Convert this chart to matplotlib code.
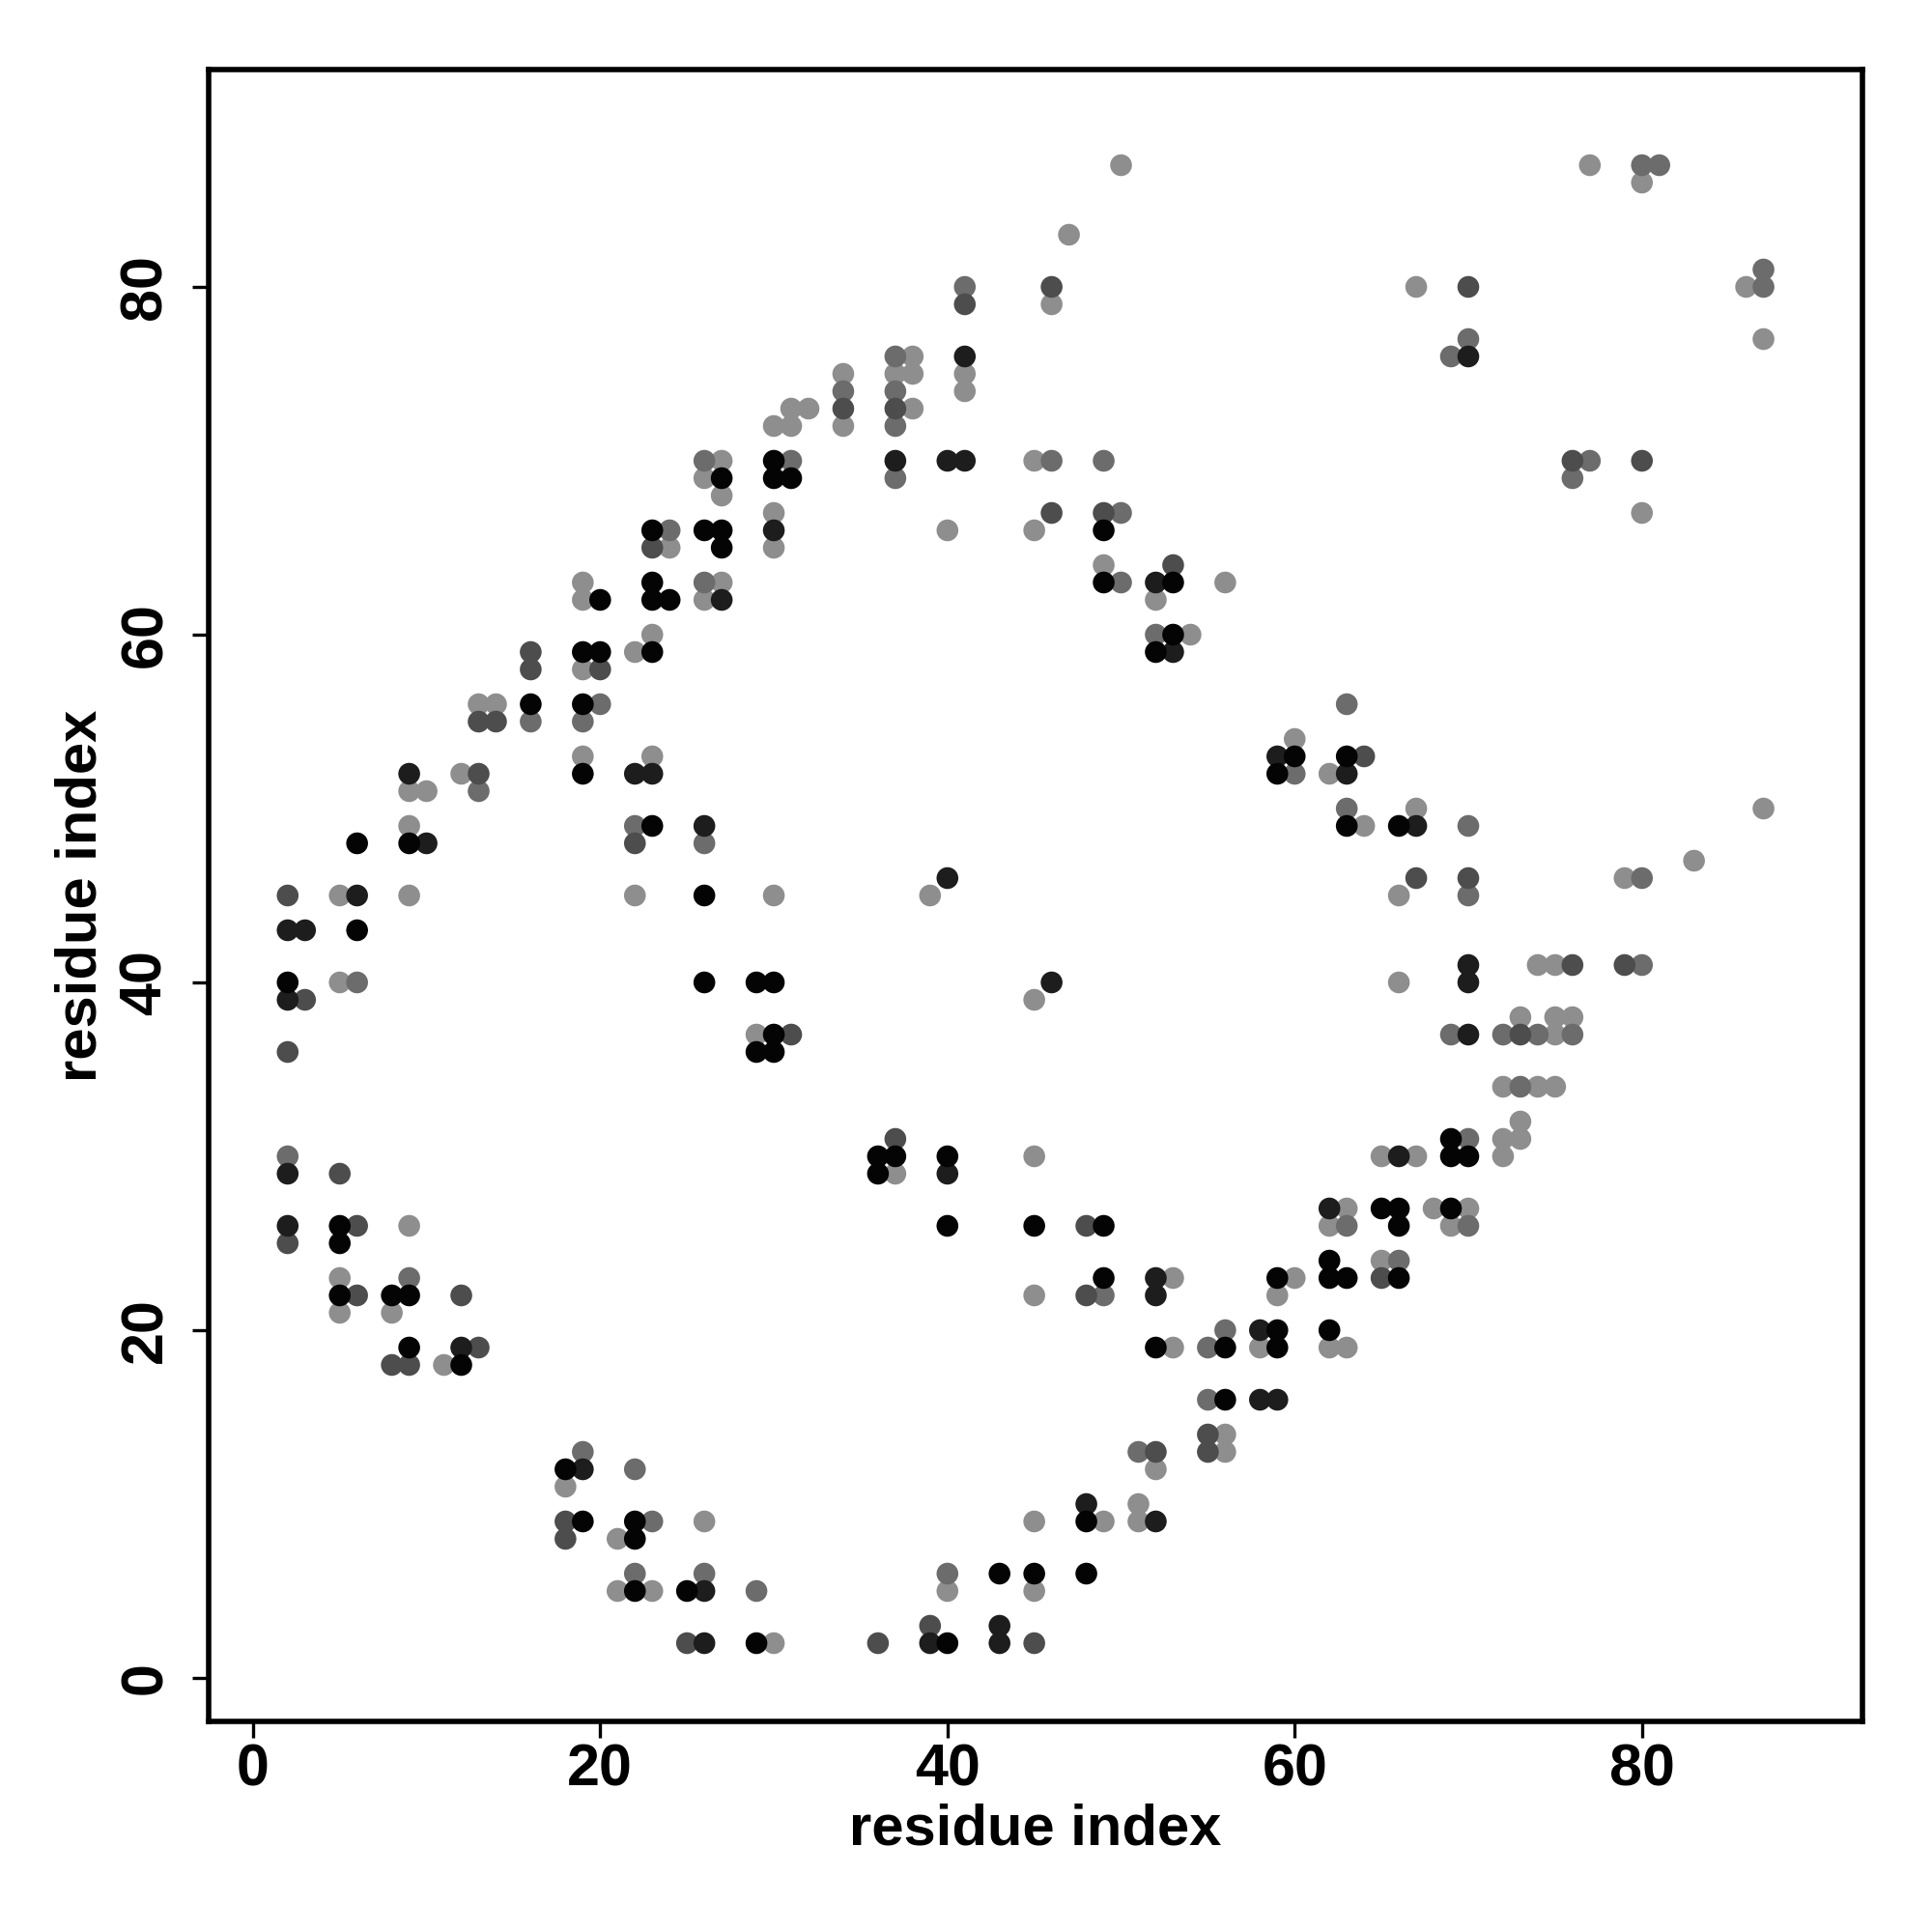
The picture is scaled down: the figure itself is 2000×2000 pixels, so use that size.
#!/usr/bin/env python3
"""Contact map: residue index vs residue index, shaded by contact score."""
import numpy as np
import matplotlib
matplotlib.use("Agg")
import matplotlib.pyplot as plt
from matplotlib.colors import Normalize

# contacts grouped by score level (i, j)
pts_black = [(2, 40), (6, 43), (6, 48), (5, 26), (5, 25), (5, 22), (9, 48), (8, 22), (9, 22), (9, 19),
             (12, 18), (16, 56), (19, 59), (20, 59), (19, 56), (19, 52), (20, 62), (23, 59), (23, 49),
             (23, 66), (23, 63), (23, 62), (24, 62), (27, 69), (26, 66), (27, 66), (27, 65), (26, 45),
             (26, 40), (29, 40), (30, 40), (30, 37), (29, 36), (30, 36), (30, 70), (30, 69), (31, 69),
             (49, 66), (49, 63), (53, 63), (53, 60), (52, 59), (60, 53), (59, 52), (63, 53), (63, 49),
             (66, 49), (69, 31), (69, 30), (70, 30), (65, 27), (66, 27), (66, 26), (69, 27), (62, 24),
             (62, 23), (63, 23), (66, 23), (59, 23), (59, 20), (62, 20), (59, 19), (52, 19), (56, 19),
             (56, 16), (48, 9), (43, 6), (45, 6), (48, 6), (40, 2), (29, 2), (36, 30), (37, 30), (36, 29),
             (40, 30), (40, 26), (45, 26), (49, 26), (49, 23), (18, 12), (19, 9), (22, 9), (22, 8),
             (22, 5), (25, 5)]
pts_dark = [(2, 43), (3, 43), (2, 39), (2, 29), (2, 26), (6, 45), (10, 48), (9, 52), (12, 19), (22, 52),
            (23, 52), (27, 62), (26, 49), (30, 66), (37, 70), (41, 76), (40, 70), (41, 70), (52, 63),
            (53, 59), (40, 46), (46, 40), (59, 53), (63, 52), (67, 49), (70, 41), (70, 40), (70, 37),
            (66, 30), (62, 27), (58, 20), (58, 16), (59, 16), (52, 23), (52, 22), (48, 10), (52, 9),
            (39, 2), (43, 3), (43, 2), (40, 29), (19, 12), (26, 5), (26, 2), (70, 76)]
pts_dmid = [(2, 45), (3, 39), (2, 36), (2, 25), (5, 29), (6, 26), (6, 22), (8, 18), (9, 18), (13, 19),
            (12, 22), (13, 52), (13, 55), (14, 55), (16, 59), (16, 58), (20, 58), (22, 48), (23, 65),
            (31, 37), (34, 73), (37, 73), (41, 79), (46, 80), (46, 67), (49, 67), (53, 64), (64, 53),
            (67, 46), (70, 46), (76, 41), (79, 41), (73, 37), (65, 23), (55, 14), (55, 13), (52, 13),
            (39, 3), (45, 2), (36, 2), (37, 31), (48, 26), (48, 22), (18, 9), (18, 8), (25, 2),
            (70, 80), (76, 70), (80, 70)]
pts_mid = [(2, 30), (6, 40), (9, 23), (13, 51), (16, 55), (20, 56), (19, 55), (22, 49), (24, 66),
           (26, 70), (26, 63), (26, 48), (31, 70), (34, 74), (37, 76), (37, 74), (37, 72), (37, 69),
           (41, 80), (46, 70), (49, 70), (50, 67), (50, 63), (52, 60), (60, 52), (63, 56), (63, 50),
           (70, 49), (70, 45), (80, 46), (80, 41), (69, 37), (72, 37), (74, 37), (76, 37), (73, 34),
           (70, 31), (63, 26), (70, 26), (66, 24), (55, 19), (56, 20), (55, 16), (51, 13), (40, 6),
           (49, 22), (19, 13), (22, 12), (23, 9), (22, 6), (26, 6), (29, 5), (70, 77), (69, 76),
           (80, 87), (81, 87), (87, 81), (87, 80), (77, 70), (76, 69)]
pts_light = [(5, 45), (5, 40), (5, 23), (5, 21), (9, 45), (9, 49), (9, 51), (10, 51), (8, 21), (9, 26),
             (11, 18), (12, 52), (13, 56), (14, 56), (19, 58), (19, 53), (19, 63), (19, 62), (22, 59),
             (23, 60), (23, 53), (22, 45), (24, 65), (27, 70), (26, 69), (27, 68), (27, 63), (26, 62),
             (29, 37), (30, 45), (30, 72), (31, 72), (31, 73), (32, 73), (30, 67), (30, 65), (34, 75),
             (34, 72), (38, 76), (37, 75), (38, 75), (38, 73), (41, 75), (41, 74), (40, 66), (45, 70),
             (46, 79), (45, 66), (47, 83), (50, 87), (49, 64), (52, 62), (56, 63), (54, 60), (39, 45),
             (45, 39), (60, 54), (62, 52), (64, 49), (67, 50), (66, 45), (79, 46), (83, 47), (87, 50),
             (66, 40), (74, 41), (75, 41), (75, 37), (73, 38), (75, 38), (76, 38), (72, 34), (74, 34),
             (75, 34), (73, 32), (72, 31), (73, 31), (72, 30), (65, 30), (67, 30), (63, 27), (62, 26),
             (68, 27), (70, 27), (69, 26), (65, 24), (60, 23), (59, 22), (58, 19), (62, 19), (63, 19),
             (53, 23), (53, 19), (56, 14), (56, 13), (52, 12), (49, 9), (51, 10), (51, 9), (45, 9),
             (40, 5), (45, 5), (30, 2), (37, 29), (45, 30), (45, 22), (18, 11), (21, 8), (26, 9),
             (21, 5), (23, 5), (67, 80), (77, 87), (80, 86), (86, 80), (87, 77), (80, 67)]

groups = [(pts_light, 0.04), (pts_mid, 0.27), (pts_dmid, 0.48), (pts_dark, 0.80), (pts_black, 0.97)]

plt.rcParams["font.family"] = ["Liberation Sans", "DejaVu Sans"]
plt.rcParams["font.weight"] = "bold"

fig = plt.figure(figsize=(10, 10), dpi=200)
ax = fig.add_axes([0.108, 0.109, 0.856, 0.855])

# score -> grey level (1 = black, 0 = light grey)
norm = Normalize(vmin=-0.724, vmax=1.0)
for pts, score in groups:
    xy = np.array(pts, dtype=float)
    ax.scatter(xy[:, 0], xy[:, 1], c=np.full(len(xy), score), cmap="gray_r", norm=norm,
               s=66, linewidths=0, zorder=2)

ax.set_xlim(-2.55, 92.7)
ax.set_ylim(-2.5, 92.5)
ax.set_xticks([0, 20, 40, 60, 80])
ax.set_yticks([0, 20, 40, 60, 80])
for sp in ax.spines.values():
    sp.set_linewidth(2.0)
ax.tick_params(direction="out", length=6, width=1.2, labelsize=22, pad=2)
ax.tick_params(axis="y", pad=7)
for lab in ax.get_yticklabels():
    lab.set_rotation(90)
    lab.set_va("center")
    lab.set_fontweight("bold")
for lab in ax.get_xticklabels():
    lab.set_fontweight("bold")

ax.set_xlabel("residue index", fontsize=21.5, fontweight="bold", labelpad=2)
ax.set_ylabel("residue index", fontsize=21.5, fontweight="bold", labelpad=4)

fig.savefig("out.png", dpi=200, facecolor="white")
